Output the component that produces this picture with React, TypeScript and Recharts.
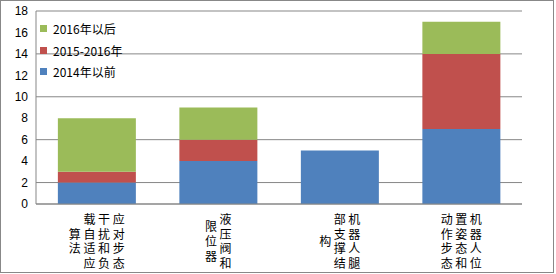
import { BarChart, Bar, XAxis, YAxis, CartesianGrid } from "recharts";

const categories = [
  "应对步态干扰和负载自适应算法",
  "液压阀和限位器",
  "机器人腿部支撑结构",
  "机器人位置姿态和动作步态",
];
const before2014 = [2, 4, 5, 7];
const y2015to2016 = [1, 2, 0, 7];
const after2016 = [5, 3, 0, 3];
const yTicks = [0, 2, 4, 6, 8, 10, 12, 14, 16, 18];

const series = [
  { key: "a", name: "2014年以前", color: "#4F81BD", values: before2014 },
  { key: "b", name: "2015-2016年", color: "#C0504D", values: y2015to2016 },
  { key: "c", name: "2016年以后", color: "#9BBB59", values: after2016 },
];

const data = categories.map((name, i) => ({
  name,
  a: before2014[i],
  b: y2015to2016[i],
  c: after2016[i],
}));

const GRID = "#878787";
const CJK = "'Noto Sans CJK SC', sans-serif";

// stacked vertical text: columns of 4 chars, read right to left
function VerticalTick(props: any) {
  const { x, y, payload } = props;
  const text: string = payload.value;
  const perCol = 4;
  const colGap = 14.6;
  const rowGap = 14.7;
  const cols: string[] = [];
  for (let i = 0; i < text.length; i += perCol) cols.push(text.slice(i, i + perCol));
  const n = cols.length;
  return (
    <g>
      {cols.map((col, ci) => {
        // first column is rightmost
        const cx = x + ((n - 1) / 2 - ci) * colGap;
        const shift = ((perCol - col.length) / 2) * rowGap;
        return (
          <text
            key={ci}
            textAnchor="middle"
            dominantBaseline="central"
            fontSize={12}
            fontFamily={CJK}
            fill="#000"
          >
            {col.split("").map((ch, ri) => (
              <tspan key={ri} x={cx} y={y + 6 + shift + ri * rowGap}>
                {ch}
              </tspan>
            ))}
          </text>
        );
      })}
    </g>
  );
}

function LegendBox() {
  const items = [...series].reverse();
  return (
    <div
      style={{
        position: "absolute",
        left: 40,
        top: 18,
        fontFamily: CJK,
        fontSize: 12,
        color: "#000",
      }}
    >
      {items.map((s) => (
        <div
          key={s.key}
          style={{ display: "flex", alignItems: "center", height: 21.5 }}
        >
          <span
            style={{
              width: 7,
              height: 7,
              background: s.color,
              display: "inline-block",
              marginRight: 6,
            }}
          />
          <span>{s.name}</span>
        </div>
      ))}
    </div>
  );
}

export default function App() {
  return (
    <div
      style={{
        position: "absolute",
        left: 0,
        top: 0,
        width: 556,
        height: 274,
        background: "#fff",
      }}
    >
      <div
        style={{
          position: "absolute",
          left: 0,
          top: 0,
          width: 552,
          height: 271,
          border: "1px solid #888",
        }}
      />
      <BarChart
        width={556}
        height={274}
        data={data}
        margin={{ top: 11, right: 34, left: 0, bottom: 0 }}
        barCategoryGap="18%"
      >
        <CartesianGrid vertical={false} stroke={GRID} strokeWidth={1} />
        <XAxis
          dataKey="name"
          interval={0}
          tickLine={false}
          axisLine={{ stroke: GRID }}
          height={70}
          tick={<VerticalTick />}
        />
        <YAxis
          width={36}
          domain={[0, 18]}
          ticks={yTicks}
          tickLine={false}
          axisLine={{ stroke: GRID }}
          tick={{ fontSize: 12, fill: "#000", fontFamily: "'Liberation Sans', Arial" }}
        />
        {series.map((s) => (
          <Bar
            key={s.key}
            dataKey={s.key}
            name={s.name}
            stackId="s"
            fill={s.color}
            isAnimationActive={false}
          />
        ))}
      </BarChart>
      <LegendBox />
    </div>
  );
}
